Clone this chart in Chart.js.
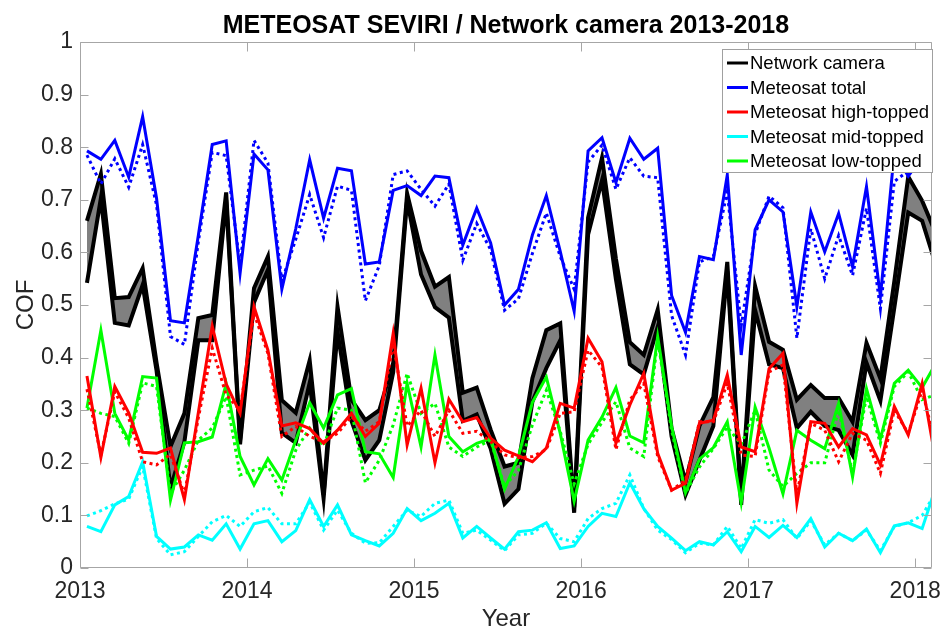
<!DOCTYPE html>
<html>
<head>
<meta charset="utf-8">
<script src="https://cdn.jsdelivr.net/npm/chart.js@4.4.1/dist/chart.umd.min.js"></script>
<style>
  html, body { margin: 0; padding: 0; background: #fff; }
  #wrap { width: 951px; height: 632px; }
</style>
</head>
<body>
<div id="wrap"><canvas id="cofChart" width="951" height="632"></canvas></div>
<script>
// monthly values, Jan 2013 .. Feb 2018 (plotted at mid-month)
const startYear = 2013;
const monthCount = 62;
const yearTicks = [2013, 2014, 2015, 2016, 2017, 2018];
const cofTicks = [0, 0.1, 0.2, 0.3, 0.4, 0.5, 0.6, 0.7, 0.8, 0.9, 1];

// network camera (upper / lower edge of the shaded band)
const cameraUpper = [0.66, 0.749, 0.513, 0.515, 0.57, 0.39, 0.231, 0.294, 0.475, 0.481,
  0.714, 0.243, 0.532, 0.592, 0.319, 0.295, 0.395, 0.139, 0.497, 0.32,
  0.281, 0.30, 0.39, 0.712, 0.603, 0.535, 0.553, 0.333, 0.343, 0.263,
  0.193, 0.20, 0.361, 0.452, 0.465, 0.115, 0.666, 0.78, 0.588, 0.429,
  0.405, 0.491, 0.265, 0.164, 0.27, 0.325, 0.582, 0.13, 0.536, 0.43,
  0.415, 0.32, 0.348, 0.323, 0.323, 0.278, 0.428, 0.36, 0.545, 0.744,
  0.698, 0.635];
const cameraLower = [0.542, 0.703, 0.466, 0.461, 0.538, 0.375, 0.152, 0.24, 0.433, 0.433,
  0.70, 0.235, 0.505, 0.567, 0.257, 0.238, 0.352, 0.132, 0.449, 0.28,
  0.205, 0.243, 0.372, 0.70, 0.558, 0.496, 0.476, 0.28, 0.292, 0.227,
  0.122, 0.15, 0.316, 0.38, 0.433, 0.105, 0.634, 0.737, 0.549, 0.387,
  0.368, 0.458, 0.25, 0.139, 0.205, 0.27, 0.565, 0.12, 0.49, 0.387,
  0.38, 0.266, 0.297, 0.27, 0.262, 0.215, 0.39, 0.318, 0.495, 0.676,
  0.66, 0.575];

// meteosat, solid and dotted variants
const totalSolid = [0.793, 0.777, 0.813, 0.743, 0.858, 0.703, 0.47, 0.466, 0.632, 0.805,
  0.812, 0.56, 0.787, 0.757, 0.53, 0.645, 0.776, 0.665, 0.76, 0.755,
  0.578, 0.582, 0.718, 0.727, 0.708, 0.745, 0.742, 0.614, 0.684, 0.618,
  0.5, 0.53, 0.633, 0.708, 0.602, 0.488, 0.793, 0.818, 0.733, 0.817,
  0.777, 0.798, 0.518, 0.448, 0.592, 0.586, 0.747, 0.405, 0.643, 0.7,
  0.677, 0.497, 0.677, 0.601, 0.674, 0.573, 0.725, 0.516, 0.79, 0.745,
  0.782, 0.79];
const totalDotted = [0.785, 0.73, 0.778, 0.724, 0.805, 0.69, 0.44, 0.425, 0.62, 0.79,
  0.784, 0.575, 0.813, 0.77, 0.545, 0.625, 0.71, 0.628, 0.726, 0.718,
  0.508, 0.575, 0.748, 0.755, 0.72, 0.688, 0.73, 0.585, 0.655, 0.605,
  0.49, 0.512, 0.598, 0.675, 0.592, 0.53, 0.772, 0.804, 0.72, 0.78,
  0.745, 0.742, 0.48, 0.405, 0.582, 0.592, 0.715, 0.46, 0.635, 0.707,
  0.685, 0.437, 0.645, 0.55, 0.632, 0.556, 0.684, 0.493, 0.735, 0.755,
  0.77, 0.762];
const highSolid = [0.365, 0.21, 0.345, 0.295, 0.22, 0.218, 0.228, 0.13, 0.295, 0.46,
  0.35, 0.294, 0.497, 0.414, 0.27, 0.276, 0.265, 0.237, 0.262, 0.294,
  0.25, 0.275, 0.446, 0.234, 0.342, 0.20, 0.321, 0.278, 0.286, 0.247,
  0.224, 0.213, 0.202, 0.228, 0.313, 0.304, 0.437, 0.392, 0.237, 0.31,
  0.37, 0.218, 0.148, 0.161, 0.275, 0.281, 0.367, 0.23, 0.221, 0.379,
  0.408, 0.123, 0.278, 0.275, 0.23, 0.265, 0.253, 0.196, 0.307, 0.253,
  0.351, 0.2];
const highDotted = [0.34, 0.215, 0.335, 0.285, 0.202, 0.196, 0.216, 0.14, 0.285, 0.418,
  0.329, 0.30, 0.484, 0.408, 0.25, 0.269, 0.25, 0.24, 0.256, 0.288,
  0.26, 0.278, 0.427, 0.27, 0.30, 0.25, 0.30, 0.256, 0.26, 0.24,
  0.215, 0.21, 0.212, 0.225, 0.294, 0.297, 0.414, 0.382, 0.225, 0.32,
  0.351, 0.212, 0.148, 0.167, 0.278, 0.278, 0.351, 0.215, 0.212, 0.373,
  0.386, 0.14, 0.275, 0.262, 0.202, 0.256, 0.243, 0.18, 0.30, 0.256,
  0.338, 0.23];
const midSolid = [0.079, 0.069, 0.12, 0.136, 0.202, 0.06, 0.036, 0.04, 0.063, 0.053,
  0.084, 0.036, 0.084, 0.09, 0.05, 0.071, 0.13, 0.079, 0.12, 0.063,
  0.052, 0.042, 0.066, 0.113, 0.09, 0.104, 0.123, 0.057, 0.079, 0.057,
  0.036, 0.069, 0.072, 0.086, 0.037, 0.042, 0.079, 0.104, 0.098, 0.162,
  0.113, 0.079, 0.057, 0.033, 0.05, 0.044, 0.069, 0.031, 0.079, 0.058,
  0.081, 0.058, 0.094, 0.04, 0.066, 0.052, 0.074, 0.029, 0.08, 0.086,
  0.075, 0.155];
const midDotted = [0.099, 0.109, 0.122, 0.131, 0.193, 0.056, 0.025, 0.031, 0.06, 0.088,
  0.1, 0.079, 0.107, 0.115, 0.084, 0.084, 0.125, 0.072, 0.11, 0.066,
  0.047, 0.048, 0.079, 0.11, 0.098, 0.123, 0.129, 0.066, 0.072, 0.053,
  0.033, 0.063, 0.066, 0.085, 0.056, 0.05, 0.094, 0.113, 0.123, 0.177,
  0.113, 0.072, 0.054, 0.029, 0.047, 0.044, 0.079, 0.037, 0.092, 0.085,
  0.092, 0.056, 0.09, 0.044, 0.066, 0.052, 0.072, 0.033, 0.079, 0.086,
  0.1, 0.145];
const lowSolid = [0.304, 0.452, 0.294, 0.243, 0.364, 0.361, 0.129, 0.238, 0.24, 0.249,
  0.35, 0.212, 0.158, 0.208, 0.167, 0.243, 0.314, 0.266, 0.329, 0.341,
  0.221, 0.217, 0.172, 0.351, 0.23, 0.405, 0.25, 0.221, 0.237, 0.246,
  0.15, 0.212, 0.315, 0.363, 0.256, 0.127, 0.243, 0.287, 0.343, 0.251,
  0.238, 0.44, 0.27, 0.143, 0.207, 0.229, 0.278, 0.124, 0.306, 0.228,
  0.141, 0.262, 0.243, 0.227, 0.313, 0.173, 0.341, 0.245, 0.351, 0.376,
  0.343, 0.39];
const lowDotted = [0.304, 0.294, 0.288, 0.237, 0.352, 0.345, 0.142, 0.186, 0.243, 0.266,
  0.326, 0.177, 0.186, 0.194, 0.142, 0.224, 0.266, 0.232, 0.304, 0.30,
  0.162, 0.205, 0.272, 0.37, 0.294, 0.313, 0.23, 0.212, 0.23, 0.243,
  0.155, 0.186, 0.272, 0.338, 0.26, 0.16, 0.235, 0.277, 0.316, 0.228,
  0.212, 0.434, 0.262, 0.142, 0.192, 0.227, 0.268, 0.235, 0.30, 0.186,
  0.155, 0.18, 0.2, 0.2, 0.30, 0.18, 0.326, 0.237, 0.345, 0.373,
  0.32, 0.33];

const legendLabels = ['Network camera', 'Meteosat total', 'Meteosat high-topped', 'Meteosat mid-topped', 'Meteosat low-topped'];
const legendColors = ['#000000', '#0000ff', '#ff0000', '#00ffff', '#00ff00'];

const FONT = '"Liberation Sans", Arial, Helvetica, sans-serif';
const TEXT = '#262626';
const AXIS = '#a6a6a6';

const monthX = [];
for (let i = 0; i < monthCount; i++) monthX.push(startYear + (i + 0.5) / 12);

function line(values, color, width, dotted) {
    return {
        data: values.map((v, i) => ({ x: monthX[i], y: v })),
        borderColor: color,
        borderWidth: width,
        borderDash: dotted ? [3, 3.5] : [],
        borderCapStyle: 'butt',
        pointRadius: 0,
        tension: 0,
        fill: false
    };
}

// frame with inward ticks, legend box, titles
const matlabLook = {
    id: 'matlabLook',
    afterDatasetsDraw(chart) {
        const { ctx, chartArea: a, scales } = chart;
        const L = Math.round(a.left) + 0.5, R = Math.round(a.right) - 0.5;
        const T = Math.round(a.top) + 0.5, B = Math.round(a.bottom) - 0.5;
        ctx.save();
        ctx.strokeStyle = AXIS;
        ctx.lineWidth = 1;
        ctx.beginPath();
        ctx.rect(L, T, R - L, B - T);
        scales.y.ticks.forEach(t => {
            const py = Math.round(scales.y.getPixelForValue(t.value)) + 0.5;
            ctx.moveTo(L, py); ctx.lineTo(L + 8, py);
            ctx.moveTo(R, py); ctx.lineTo(R - 8, py);
        });
        scales.x.ticks.forEach(t => {
            const px = Math.round(scales.x.getPixelForValue(t.value)) + 0.5;
            ctx.moveTo(px, B); ctx.lineTo(px, B - 9);
            ctx.moveTo(px, T); ctx.lineTo(px, T + 9);
        });
        ctx.stroke();

        // legend
        const lx = 722, ly = 49, lw = 210, lh = 123;
        ctx.fillStyle = '#ffffff';
        ctx.fillRect(lx, ly, lw, lh);
        ctx.strokeStyle = '#a0a0a0';
        ctx.strokeRect(lx + 0.5, ly + 0.5, lw, lh);
        ctx.font = '18.5px ' + FONT;
        ctx.textBaseline = 'middle';
        ctx.textAlign = 'left';
        legendLabels.forEach((lab, k) => {
            const ry = 63 + k * 24.5;
            ctx.strokeStyle = legendColors[k];
            ctx.lineWidth = 3;
            ctx.beginPath();
            ctx.moveTo(727, ry); ctx.lineTo(748, ry);
            ctx.stroke();
            ctx.fillStyle = '#000';
            ctx.fillText(lab, 750, ry + 1);
        });
        ctx.restore();
    },
    afterDraw(chart) {
        const { ctx, chartArea: a } = chart;
        const cx = (a.left + a.right) / 2;
        ctx.save();
        ctx.fillStyle = '#000';
        ctx.textAlign = 'center';
        ctx.textBaseline = 'alphabetic';
        ctx.font = 'bold 25px ' + FONT;
        ctx.fillText('METEOSAT SEVIRI / Network camera 2013-2018', cx, 33);
        ctx.fillStyle = TEXT;
        ctx.font = '24px ' + FONT;
        ctx.fillText('Year', cx, 626);
        ctx.translate(33, (a.top + a.bottom) / 2);
        ctx.rotate(-Math.PI / 2);
        ctx.fillText('COF', 0, 0);
        ctx.restore();
    }
};

const datasets = [
    line(totalSolid, '#0000ff', 3, false),
    line(totalDotted, '#0000ff', 3, true),
    line(highSolid, '#ff0000', 3, false),
    line(highDotted, '#ff0000', 3, true),
    line(midSolid, '#00ffff', 3, false),
    line(midDotted, '#00ffff', 3, true),
    line(lowSolid, '#00ff00', 3, false),
    line(lowDotted, '#00ff00', 3, true),
    Object.assign(line(cameraUpper, '#000000', 4, false), { fill: '+1', backgroundColor: '#808080' }),
    line(cameraLower, '#000000', 4, false)
];

new Chart(document.getElementById('cofChart'), {
    type: 'line',
    data: { datasets: datasets },
    options: {
        responsive: false,
        animation: false,
        events: [],
        layout: { padding: { left: 0, right: 11, top: 42, bottom: 0 } },
        plugins: {
            legend: { display: false },
            tooltip: { enabled: false },
            title: { display: false },
            filler: { drawTime: 'beforeDatasetsDraw' }
        },
        scales: {
            x: {
                type: 'linear',
                min: 2013,
                max: 2018.1,
                afterBuildTicks: s => { s.ticks = yearTicks.map(v => ({ value: v })); },
                afterFit: s => { s.height = 64; },
                grid: { display: false, drawTicks: false },
                border: { display: false },
                ticks: {
                    autoSkip: false,
                    maxRotation: 0,
                    padding: 10,
                    color: TEXT,
                    font: { family: FONT, size: 23 },
                    callback: v => String(v)
                }
            },
            y: {
                type: 'linear',
                min: 0,
                max: 1,
                afterBuildTicks: s => { s.ticks = cofTicks.map(v => ({ value: v })); },
                afterFit: s => { s.width = 80; },
                grid: { display: false, drawTicks: false },
                border: { display: false },
                ticks: {
                    padding: 7,
                    color: TEXT,
                    font: { family: FONT, size: 23 },
                    callback: v => String(+v.toFixed(1))
                }
            }
        }
    },
    plugins: [matlabLook]
});
</script>
</body>
</html>
